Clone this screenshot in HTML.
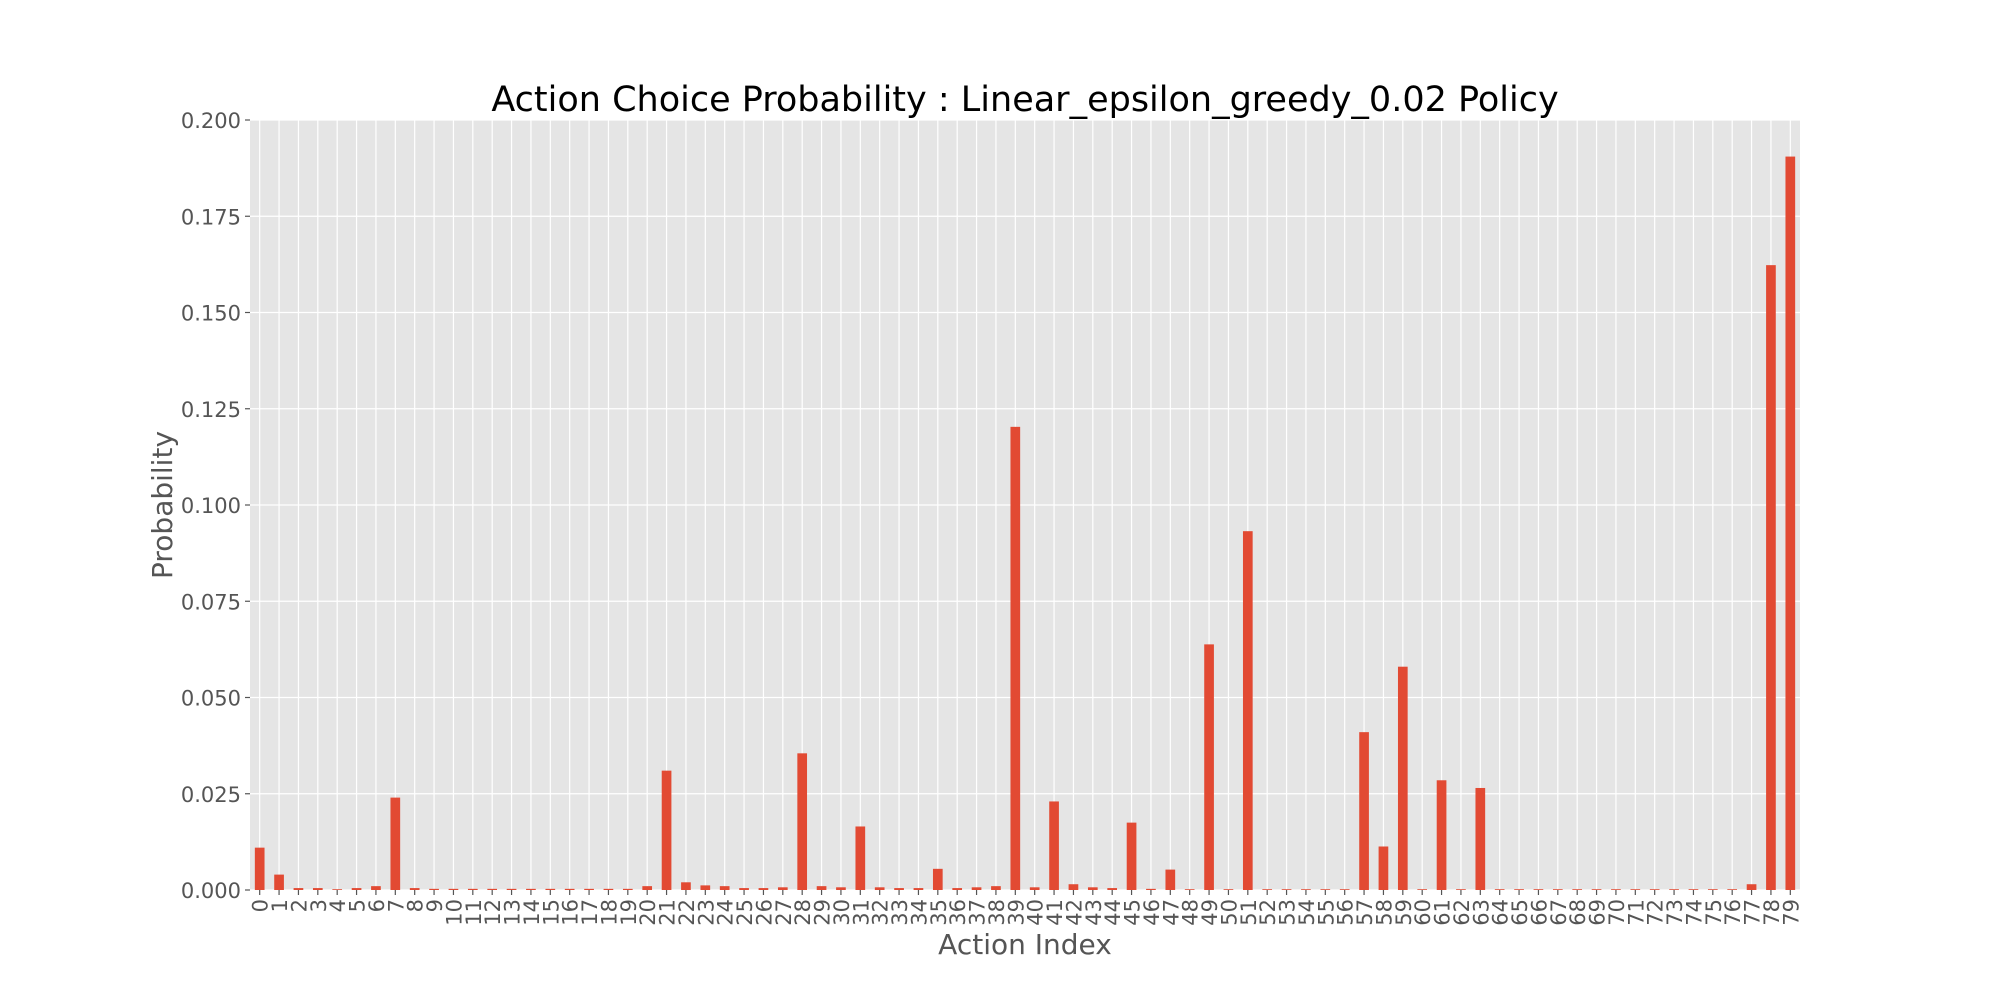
<!DOCTYPE html>
<html><head><meta charset="utf-8"><style>
html,body{margin:0;padding:0;background:#fff;}
svg text{font-family:"DejaVu Sans","Liberation Sans",sans-serif;}
</style></head><body>
<svg id="chart" width="2000" height="1000" xmlns="http://www.w3.org/2000/svg">
<rect x="0" y="0" width="2000" height="1000" fill="#fff"/>
<rect x="250" y="120" width="1550" height="770" fill="#E5E5E5"/>
<g id="grid"></g><g id="bars"></g><g id="yticks"></g><g id="xticks"></g>
<text x="1025" y="111" font-size="35" text-anchor="middle" fill="#000">Action Choice Probability : Linear_epsilon_greedy_0.02 Policy</text>
<text x="1025" y="954" font-size="28" text-anchor="middle" fill="#555">Action Index</text>
<text transform="translate(172,505) rotate(-90)" font-size="28" text-anchor="middle" fill="#555">Probability</text>
</svg>
<script>
const categories = Array.from({length:80},(_,i)=>String(i));
const probabilities = [0.011,0.004,0.0005,0.0005,0.0002,0.0005,0.001,0.024,0.0005,0.0003,
0.0003,0.0003,0.0003,0.0003,0.0003,0.0003,0.0003,0.0003,0.0003,0.0003,
0.001,0.031,0.002,0.0012,0.001,0.0005,0.0005,0.0007,0.0355,0.001,
0.0007,0.0165,0.0007,0.0005,0.0005,0.0055,0.0005,0.0007,0.001,0.1203,
0.0007,0.023,0.0015,0.0007,0.0005,0.0175,0.0003,0.0053,0.0002,0.0638,
0.0002,0.0932,0.0002,0.0002,0.0002,0.0002,0.0002,0.041,0.0113,0.058,
0.0002,0.0285,0.0002,0.0265,0.0002,0.0002,0.0002,0.0002,0.0002,0.0002,
0.0002,0.0002,0.0002,0.0002,0.0002,0.0002,0.0002,0.0015,0.1623,0.1905];
const yTicks = [0,0.025,0.05,0.075,0.1,0.125,0.15,0.175,0.2];
const yTickLabels = ["0.000","0.025","0.050","0.075","0.100","0.125","0.150","0.175","0.200"];
const L=250,R=1800,T=120,B=890,NS="http://www.w3.org/2000/svg";
const xs=i=>L+(i+0.5)/categories.length*(R-L);
const ys=v=>B-v/0.2*(B-T);
const bw=0.5*(R-L)/categories.length;
function mk(tag,attrs,parent,txt){const e=document.createElementNS(NS,tag);for(const k in attrs)e.setAttribute(k,attrs[k]);if(txt!==undefined)e.textContent=txt;parent.appendChild(e);return e;}
const grid=document.getElementById('grid'),bars=document.getElementById('bars'),yt=document.getElementById('yticks'),xt=document.getElementById('xticks');
yTicks.forEach((v,i)=>{
  const g=mk('line',{x1:L,x2:R,y1:ys(v),y2:ys(v),stroke:'#fff','stroke-width':1.2},grid);
  
  
  const tk=mk('line',{x1:L-5,x2:L,y1:ys(v),y2:ys(v),stroke:'#555','stroke-width':1.2},yt);
  
  
  const t=mk('text',{x:L-9,y:ys(v)+8,'font-size':21,'text-anchor':'end',fill:'#555'},yt,yTickLabels[i]);
  
  
});
categories.forEach((c,i)=>{
  const x=xs(i);
  const g=mk('line',{x1:x,x2:x,y1:T,y2:B,stroke:'#fff','stroke-width':1.2},grid);
  
  
  const v=probabilities[i];
  const r=mk('rect',{x:x-bw/2,y:ys(v),width:bw,height:B-ys(v),fill:'#E24A33'},bars);
  
  
  const tk=mk('line',{x1:x,x2:x,y1:B,y2:B+5,stroke:'#555','stroke-width':1.2},xt);
  
  
  const t=mk('text',{transform:`translate(${x+8},${B+9}) rotate(-90)`,'font-size':21,'text-anchor':'end',fill:'#555'},xt,c);
  
  
});
</script>
</body></html>
